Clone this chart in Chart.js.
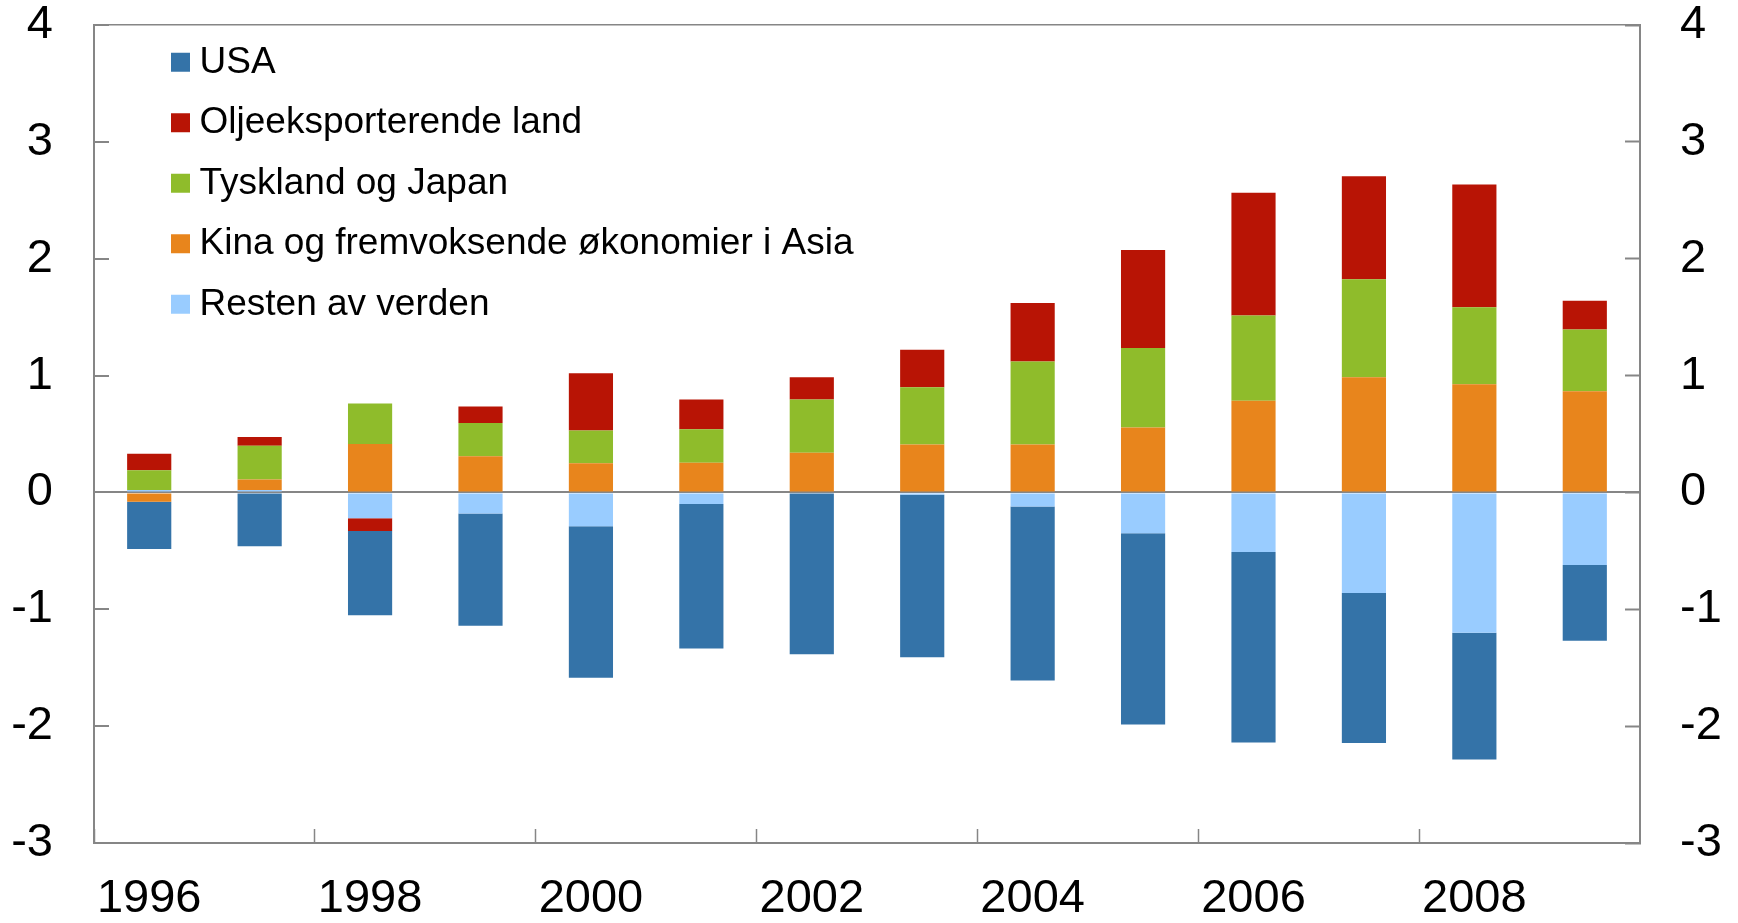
<!DOCTYPE html>
<html>
<head>
<meta charset="utf-8">
<script src="https://cdn.jsdelivr.net/npm/chart.js@4"></script>
<style>
  html, body { margin: 0; padding: 0; background: #fff; }
  #wrap { width: 1738px; height: 923px; }
</style>
</head>
<body>
<div id="wrap"><canvas id="c" width="1738" height="923"></canvas></div>
<script>
// ---- Data ----
const years = ['1996','1997','1998','1999','2000','2001','2002','2003','2004','2005','2006','2007','2008','2009'];
const xTickLabels = ['1996','','1998','','2000','','2002','','2004','','2006','','2008',''];

const usa      = [-0.405, -0.46, -0.72, -0.96, -1.295, -1.235, -1.375, -1.39, -1.49, -1.635, -1.63, -1.285, -1.085, -0.65];
const olje     = [0.14, 0.074, -0.11, 0.14, 0.49, 0.255, 0.19, 0.32, 0.50, 0.84, 1.05, 0.88, 1.05, 0.245];
const tyskland = [0.17, 0.29, 0.345, 0.285, 0.28, 0.285, 0.455, 0.49, 0.71, 0.68, 0.73, 0.84, 0.66, 0.53];
const kina     = [-0.08, 0.09, 0.415, 0.31, 0.25, 0.255, 0.34, 0.41, 0.41, 0.555, 0.785, 0.985, 0.925, 0.865];
const resten   = [0.02, 0.02, -0.22, -0.18, -0.29, -0.10, -0.01, -0.02, -0.12, -0.35, -0.51, -0.86, -1.20, -0.62];

const seriesNames = ['Resten av verden', 'Kina og fremvoksende økonomier i Asia', 'Tyskland og Japan', 'Oljeeksporterende land', 'USA'];
const seriesColors = ['#99CCFF', '#E8851C', '#8FBC2B', '#B81405', '#3473A8'];
const seriesData = [resten, kina, tyskland, olje, usa];

const yMin = -3, yMax = 4;

// ---- Style ----
const FONT = "'Liberation Sans', Arial, sans-serif";
const AXIS = '#868686';

const datasets = seriesData.map((d, i) => ({
  label: seriesNames[i],
  data: d,
  backgroundColor: seriesColors[i],
  borderWidth: 0,
  xAxisID: 'x',
  yAxisID: 'y',
  categoryPercentage: 1.0,
  barPercentage: 0.4
}));

const legendPos = {
  id: 'legendPos',
  afterLayout(chart) {
    if (chart.legend) {
      chart.legend.left = 156.5;
      chart.legend.top = 20.3;
    }
  }
};

function noPad(s) {
  s.paddingTop = 0; s.paddingBottom = 0; s.paddingLeft = 0; s.paddingRight = 0;
}

new Chart(document.getElementById('c'), {
  type: 'bar',
  data: { labels: years, datasets },
  plugins: [legendPos],
  options: {
    responsive: false,
    animation: false,
    devicePixelRatio: 1,
    layout: { padding: 0 },
    plugins: {
      tooltip: { enabled: false },
      title: { display: false },
      legend: {
        position: 'chartArea',
        align: 'start',
        reverse: true,
        labels: {
          usePointStyle: true,
          pointStyle: 'rect',
          boxWidth: 1,
          boxHeight: 19,
          padding: 23.5,
          color: '#000',
          font: { family: FONT, size: 37 }
        }
      }
    },
    scales: {
      x: {
        type: 'category',
        position: 'bottom',
        stacked: true,
        offset: true,
        afterFit: (s) => { s.height = 80; noPad(s); },
        grid: {
          offset: true,
          drawOnChartArea: false,
          drawTicks: true,
          tickLength: -14,
          tickWidth: 1.5,
          tickColor: (ctx) => (ctx.index % 2 === 0 ? AXIS : 'rgba(0,0,0,0)')
        },
        border: { display: true, color: AXIS, width: 2 },
        ticks: {
          autoSkip: false,
          maxRotation: 0,
          minRotation: 0,
          padding: 47,
          color: '#000',
          font: { family: FONT, size: 47, lineHeight: 1 },
          callback: (v, i) => xTickLabels[i]
        }
      },
      x2: {
        type: 'category',
        position: 'top',
        afterFit: (s) => { s.height = 25; noPad(s); },
        grid: { display: false, drawTicks: false },
        border: { display: true, color: AXIS, width: 1.5 },
        ticks: { display: false }
      },
      y: {
        type: 'linear',
        position: 'left',
        stacked: true,
        min: yMin,
        max: yMax,
        afterFit: (s) => { s.width = 94; noPad(s); },
        grid: {
          drawOnChartArea: true,
          drawTicks: true,
          tickLength: -15,
          tickWidth: 2,
          tickColor: AXIS,
          lineWidth: 2,
          color: (ctx) => (ctx.tick && ctx.tick.value === 0 ? AXIS : 'rgba(0,0,0,0)')
        },
        border: { display: true, color: AXIS, width: 2 },
        ticks: {
          stepSize: 1,
          padding: 56,
          color: '#000',
          font: { family: FONT, size: 47, lineHeight: 1 }
        }
      },
      y2: {
        type: 'linear',
        position: 'right',
        min: yMin,
        max: yMax,
        afterFit: (s) => { s.width = 98; noPad(s); },
        grid: {
          drawOnChartArea: false,
          drawTicks: true,
          tickLength: -15,
          tickWidth: 2,
          tickColor: AXIS
        },
        border: { display: true, color: AXIS, width: 2 },
        ticks: {
          stepSize: 1,
          padding: 55,
          color: '#000',
          font: { family: FONT, size: 47, lineHeight: 1 }
        }
      }
    }
  }
});
</script>
</body>
</html>
